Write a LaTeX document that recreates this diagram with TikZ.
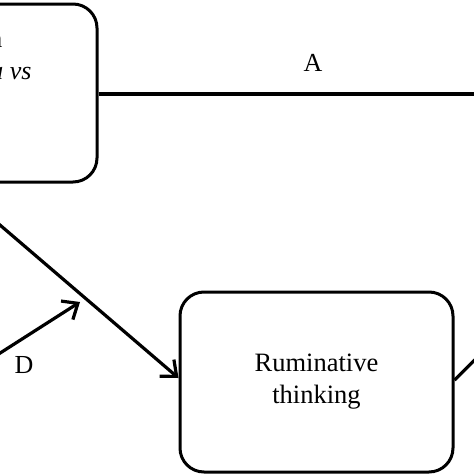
\documentclass[tikz,border=0pt]{standalone}
\usepackage{fontspec}
\setmainfont{Liberation Serif}
\usetikzlibrary{arrows.meta,calc}
\begin{document}
\begin{tikzpicture}[x=1pt,y=-1pt,
  box/.style={draw,line width=3pt,rounded corners=24pt,align=center,font=\fontsize{26.5}{32}\selectfont},
  conn/.style={line width=3.2pt},
  arr/.style={conn,-{Straight Barb[length=13pt,width=22pt,line width=3.2pt]}},
  lbl/.style={font=\fontsize{26}{30}\selectfont}]
\clip (0,0) rectangle (474,474);
\useasboundingbox (0,0) rectangle (474,474);
\fill[white] (0,0) rectangle (474,474);
\node[box,minimum width=294pt,minimum height=178pt] (L) at (-50,93) {};
\node[lbl,anchor=base east] (t1) at (6,47) {n};
\node[lbl,anchor=base east] (t2) at (35,79) {\textit{a vs}};
\node[box,minimum width=273pt,minimum height=180pt] (R) at (316.5,382) {Ruminative\\thinking};
\coordinate (Aend) at (490,94);
\draw[conn] (L.east |- Aend) -- (Aend);
\node[lbl] (A) at (313,63) {A};
\coordinate (s1) at (-10,216.5);
\coordinate (rin) at ($(R.west)+(0,-4)$);
\draw[arr] (s1) -- (rin);
\coordinate (d0) at (-10,359.5);
\coordinate (d1) at (80,302);
\draw[arr] (d0) -- (d1);
\node[lbl] (D) at (24,365) {D};
\coordinate (rout) at (495,340);
\draw[conn] ($(R.east)+(0,-2)$) -- (rout);
\end{tikzpicture}
\end{document}
